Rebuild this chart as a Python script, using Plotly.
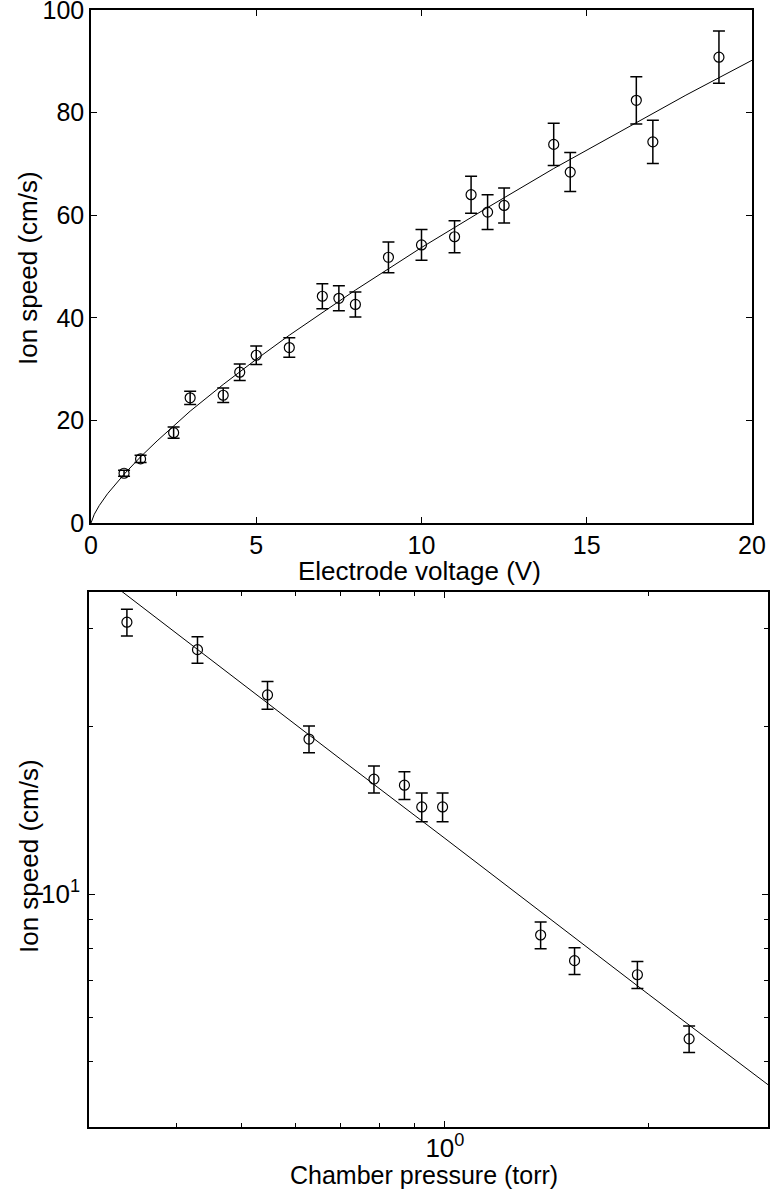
import plotly.graph_objects as go
import numpy as np

# top panel: ion speed vs electrode voltage
voltage = [1, 1.5, 2.5, 3, 4, 4.5, 5, 6, 7, 7.5, 8, 9, 10, 11, 11.5, 12, 12.5, 14, 14.5, 16.5, 17, 19]
speed_v = [9.7, 12.5, 17.6, 24.4, 24.9, 29.4, 32.7, 34.2, 44.2, 43.8, 42.6, 51.8, 54.2, 55.8, 64.0, 60.6, 61.9, 73.8, 68.4, 82.4, 74.3, 90.8]
err_v = [0.6, 0.7, 1.1, 1.3, 1.4, 1.6, 1.8, 1.9, 2.45, 2.45, 2.45, 3.0, 3.0, 3.1, 3.6, 3.4, 3.4, 4.1, 3.8, 4.6, 4.2, 5.1]
fit_v = [0, 0.1, 0.25, 0.5, 1, 1.5, 2, 3, 4, 5, 6, 8, 10, 12, 14, 16, 18, 20]
fit_speed_v = [0, 1.7, 3.4, 5.7, 9.5, 12.9, 16.0, 21.8, 27.0, 31.9, 36.6, 45.4, 53.7, 61.5, 69.1, 76.3, 83.4, 90.2]

# bottom panel: ion speed vs chamber pressure (log-log)
pressure = [0.338, 0.43, 0.546, 0.629, 0.785, 0.871, 0.924, 0.992, 1.386, 1.556, 1.928, 2.30]
speed_p = [30.8, 27.5, 22.8, 19.0, 16.1, 15.7, 14.35, 14.35, 8.45, 7.6, 7.17, 5.5]
err_p = [1.7, 1.5, 1.3, 1.05, 0.9, 0.9, 0.85, 0.85, 0.47, 0.42, 0.4, 0.3]
fit_p = [0.332, 0.5, 0.7, 1.0, 1.5, 2.0, 3.01]
fit_speed_p = [35.0, 23.9, 17.5, 12.6, 8.65, 6.62, 4.55]

W, H = 770, 1189
FONT = "Liberation Sans"

def px_x(p):
    return p / W

def px_y(p):
    return 1 - p / H

fig = go.Figure()

fig.add_trace(go.Scatter(x=fit_v, y=fit_speed_v, mode="lines",
                         line=dict(color="black", width=1), xaxis="x", yaxis="y"))
fig.add_trace(go.Scatter(x=voltage, y=speed_v, mode="markers",
                         marker=dict(symbol="circle-open", size=10, color="black", line=dict(width=1.2)),
                         error_y=dict(type="data", array=err_v, color="black", thickness=1.5, width=6),
                         xaxis="x", yaxis="y"))

fig.add_trace(go.Scatter(x=fit_p, y=fit_speed_p, mode="lines",
                         line=dict(color="black", width=1), xaxis="x2", yaxis="y2"))
fig.add_trace(go.Scatter(x=pressure, y=speed_p, mode="markers",
                         marker=dict(symbol="circle-open", size=10, color="black", line=dict(width=1.2)),
                         error_y=dict(type="data", array=err_p, color="black", thickness=1.5, width=6),
                         xaxis="x2", yaxis="y2"))

def axis_style(size):
    return dict(showline=True, mirror="ticks", linecolor="black", linewidth=1.5,
                ticks="inside", ticklen=6, tickwidth=1.2, tickcolor="black",
                showgrid=False, zeroline=False, automargin=False, ticklabeloverflow="allow",
                tickfont=dict(family=FONT, size=size, color="black"))

def label(text, x, y, size, angle=0):
    return dict(text=text, x=px_x(x), y=px_y(y), xref="paper", yref="paper",
                xanchor="center", yanchor="middle", showarrow=False, textangle=angle,
                font=dict(family=FONT, size=size, color="black"))

fig.update_layout(
    width=W, height=H,
    margin=dict(l=0, r=0, t=0, b=0),
    paper_bgcolor="white", plot_bgcolor="white",
    showlegend=False,
    xaxis=dict(domain=[px_x(91), px_x(752)], range=[0, 20], tickvals=[0, 5, 10, 15, 20],
               anchor="y", ticklabelstandoff=-1, **axis_style(25)),
    yaxis=dict(domain=[px_y(523), px_y(10)], range=[0, 100], tickvals=[0, 20, 40, 60, 80, 100],
               anchor="x", ticklabelstandoff=0, **axis_style(25)),
    xaxis2=dict(domain=[px_x(89), px_x(768)], type="log", range=[np.log10(0.297), np.log10(3.01)],
                tickvals=[1], ticktext=["10<sup>0</sup>"], anchor="y2", ticklabelstandoff=-3,
                minor=dict(tickvals=[0.4, 0.5, 0.6, 0.7, 0.8, 0.9, 2], ticks="inside", ticklen=4,
                           tickcolor="black", tickwidth=1, showgrid=False),
                **axis_style(26)),
    yaxis2=dict(domain=[px_y(1127), px_y(592)], type="log", range=[np.log10(3.82), np.log10(34.9)],
                tickvals=[10], ticktext=["10<sup>1</sup>"], anchor="x2", ticklabelstandoff=2,
                minor=dict(tickvals=[5, 6, 7, 8, 9, 20, 30], ticks="inside", ticklen=4,
                           tickcolor="black", tickwidth=1, showgrid=False),
                **axis_style(26)),
    annotations=[
        label("Electrode voltage (V)", 419, 571, 26),
        label("Ion speed (cm/s)", 28, 268, 26, -90),
        label("Ion speed (cm/s)", 29, 856, 26, -90),
        label("Chamber pressure (torr)", 424, 1175, 25),
    ],
)

# drop the page's default body margin so the figure sits at the window's corner
fig.write_html("out.html", config={"displayModeBar": False},
               post_script="document.body.style.margin='0';")
